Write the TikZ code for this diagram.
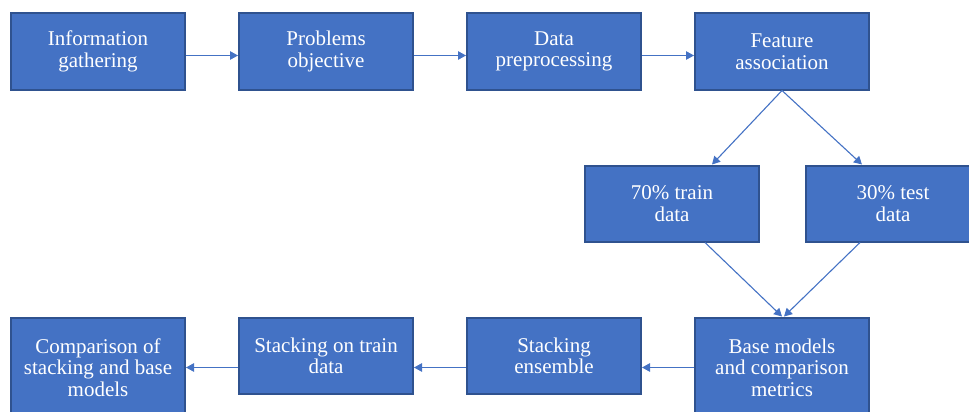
\documentclass[tikz,border=0pt]{standalone}
\usepackage{fontspec}
\newfontfamily\boxfont{LiberationSerif-Regular.ttf}
\usetikzlibrary{arrows.meta,calc}
\definecolor{boxfill}{HTML}{4472C4}
\definecolor{boxedge}{HTML}{2F528F}
\definecolor{linkcol}{HTML}{4472C4}
\begin{document}
\begin{tikzpicture}[x=1pt,y=-1pt,
  stagebox/.style={rectangle,fill=boxfill,draw=boxedge,line width=2pt,
    minimum width=174pt,minimum height=76pt,inner sep=2pt,
    text=white,align=center,
    font=\boxfont\fontsize{21pt}{21.5pt}\selectfont},
  tallbox/.style={stagebox,minimum height=100pt},
  link/.style={draw=linkcol,line width=1.1pt,
    -{Triangle[length=8pt,width=8.5pt]}}]
\useasboundingbox (0,0) rectangle (969,412);
\clip (0,0) rectangle (969,412);
% top row
\node[stagebox] (info) at (98,51.5) {Information\\gathering};
\node[stagebox] (prob) at (326,51.5) {Problems\\objective};
\node[stagebox] (prep) at (554,51.5) {Data\\preprocessing};
\node[stagebox] (feat) at (782,51.5) {Feature\\association};
% data split
\node[stagebox] (train) at (672,203.5) {70\% train\\data};
\node[stagebox] (test) at (893,203.5) {30\% test\\data};
% bottom row
\node[tallbox] (comp) at (98,367.5) {Comparison of\\stacking and base\\models};
\node[stagebox] (ontrain) at (326,356) {Stacking on train\\data};
\node[stagebox] (ens) at (554,356) {Stacking\\ensemble};
\node[tallbox] (base) at (782,367.5) {Base models\\and comparison\\metrics};
% connectors
\draw[link] ([yshift=-4pt]info.east) -- ([yshift=-4pt]prob.west);
\draw[link] ([yshift=-4pt]prob.east) -- ([yshift=-4pt]prep.west);
\draw[link] ([yshift=-4pt]prep.east) -- ([yshift=-4pt]feat.west);
\draw[link] (feat.south) -- ([xshift=40pt]train.north);
\draw[link] (feat.south) -- ([xshift=-31pt]test.north);
\draw[link] ([xshift=33pt]train.south) -- (base.north);
\draw[link] ([xshift=-33pt]test.south) -- ([xshift=2pt]base.north);
\draw[link] (base.west) -- (base.west -| ens.east);
\draw[link] (base.west -| ens.west) -- (base.west -| ontrain.east);
\draw[link] (comp.east -| ontrain.west) -- (comp.east);
\end{tikzpicture}
\end{document}
